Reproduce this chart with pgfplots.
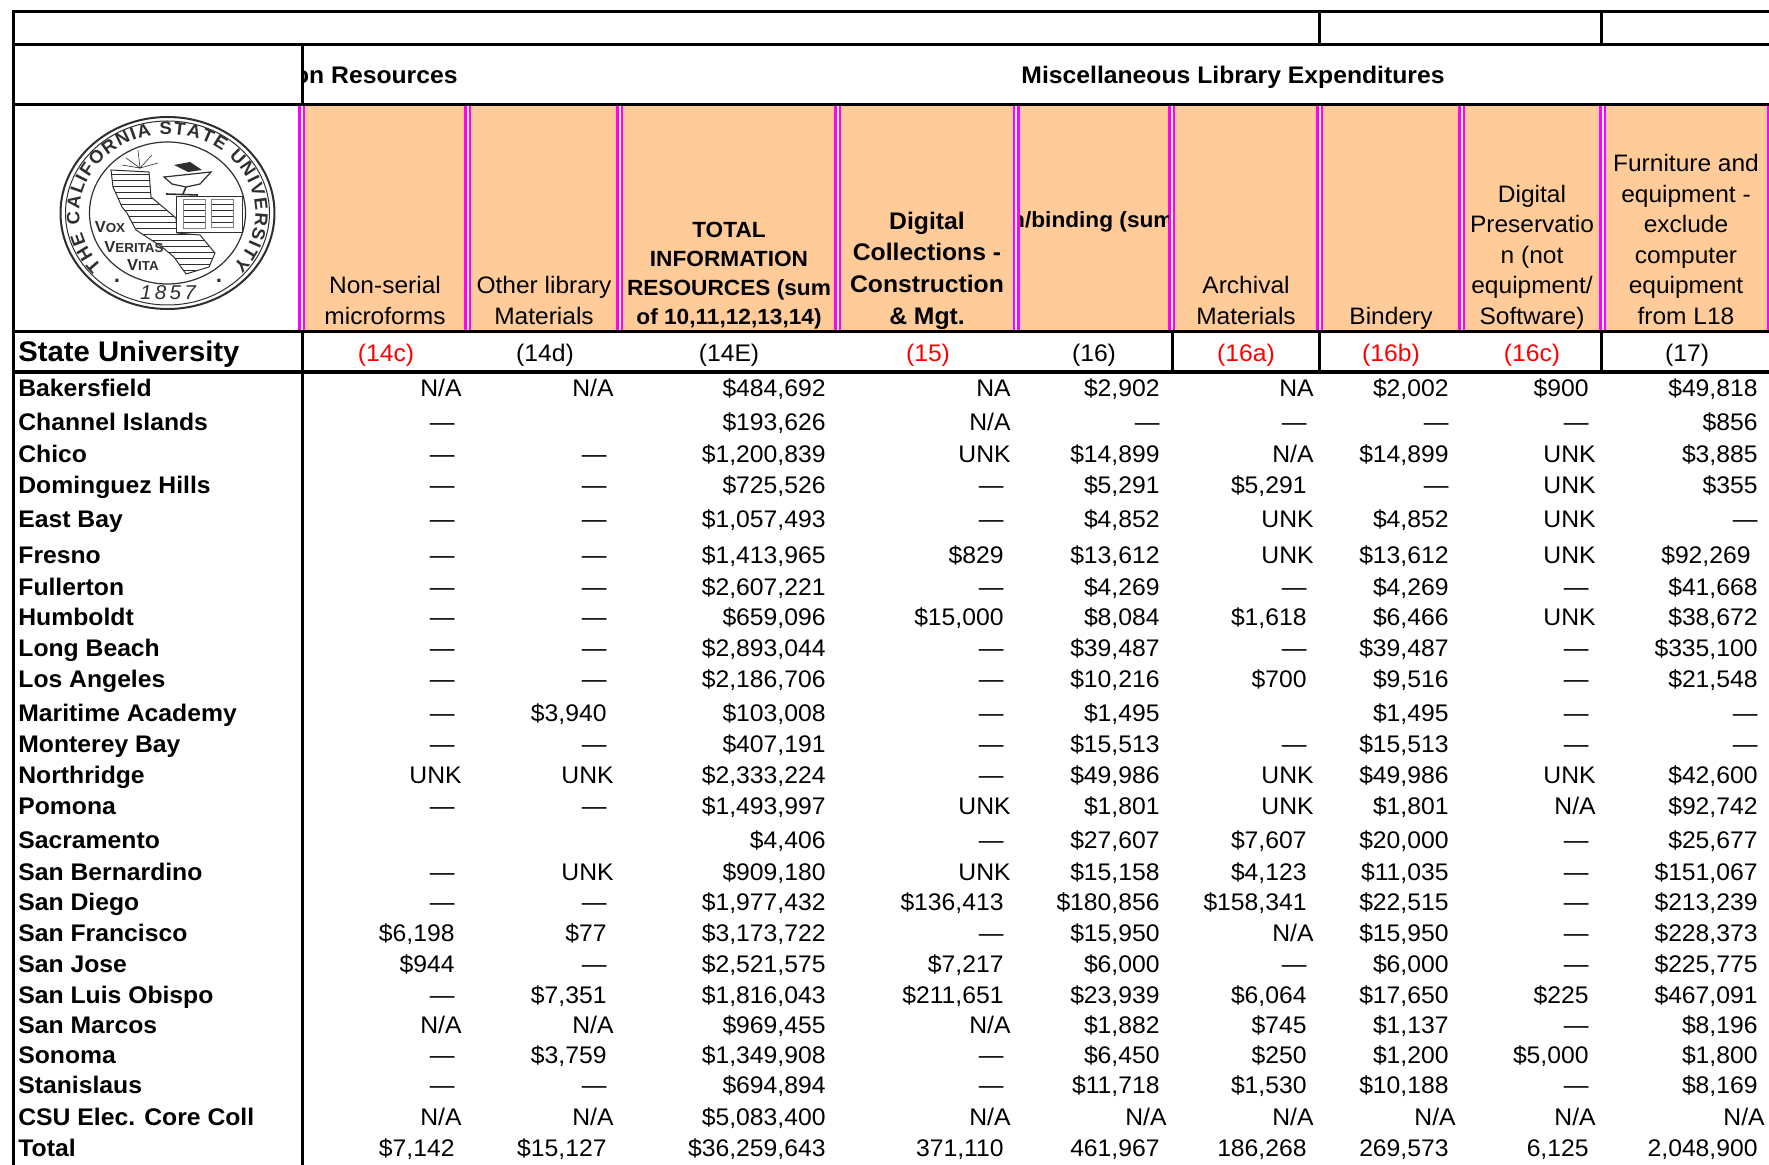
\documentclass[border=0pt]{standalone}
\usepackage{fontspec}
\setmainfont{Liberation Sans}[FakeStretch=1.03]
\usepackage{pgfplots}
\usepackage{pgfplotstable}
\pgfplotsset{compat=1.18}
\usetikzlibrary{patterns,decorations.text}

\definecolor{hdr}{HTML}{FFCC99}
\definecolor{seal}{HTML}{2E2E2E}
\definecolor{mag}{HTML}{FF00FF}
\definecolor{redtxt}{HTML}{FF0000}
\newcommand\fs[2]{\fontsize{#1}{#2}\selectfont}

% text cells stick out past the right edge of the figures
\newcommand\NS{N/A\kern-3.5pt}
\newcommand\NAx{NA\kern-3.5pt}
\newcommand\U{UNK\kern-3.5pt}
\newcommand\Q{---}

% y = text baseline in reference pixels
\pgfplotstableread[col sep=semicolon]{
y;name;a;b;c;d;e;f;g;h;i
397;Bakersfield;\NS;\NS;\$484,692;\NAx;\$2,902;\NAx;\$2,002;\$900;\$49,818
431;Channel Islands;\Q;;\$193,626;\NS;\Q;\Q;\Q;\Q;\$856
463;Chico;\Q;\Q;\$1,200,839;\U;\$14,899;\NS;\$14,899;\U;\$3,885
494;Dominguez Hills;\Q;\Q;\$725,526;\Q;\$5,291;\$5,291;\Q;\U;\$355
528;East Bay;\Q;\Q;\$1,057,493;\Q;\$4,852;\U;\$4,852;\U;\Q
564;Fresno;\Q;\Q;\$1,413,965;\$829;\$13,612;\U;\$13,612;\U;\$92,269\kern3.5pt
596;Fullerton;\Q;\Q;\$2,607,221;\Q;\$4,269;\Q;\$4,269;\Q;\$41,668
626;Humboldt;\Q;\Q;\$659,096;\$15,000;\$8,084;\$1,618;\$6,466;\U;\$38,672
657;Long Beach;\Q;\Q;\$2,893,044;\Q;\$39,487;\Q;\$39,487;\Q;\$335,100
688;Los Angeles;\Q;\Q;\$2,186,706;\Q;\$10,216;\$700;\$9,516;\Q;\$21,548
722;Maritime Academy;\Q;\$3,940;\$103,008;\Q;\$1,495;;\$1,495;\Q;\Q
753;Monterey Bay;\Q;\Q;\$407,191;\Q;\$15,513;\Q;\$15,513;\Q;\Q
784;Northridge;\U;\U;\$2,333,224;\Q;\$49,986;\U;\$49,986;\U;\$42,600
815;Pomona;\Q;\Q;\$1,493,997;\U;\$1,801;\U;\$1,801;\NS;\$92,742
849;Sacramento;;;\$4,406;\Q;\$27,607;\$7,607;\$20,000;\Q;\$25,677
881;San Bernardino;\Q;\U;\$909,180;\U;\$15,158;\$4,123;\$11,035;\Q;\$151,067
911;San Diego;\Q;\Q;\$1,977,432;\$136,413;\$180,856;\$158,341;\$22,515;\Q;\$213,239
942;San Francisco;\$6,198;\$77;\$3,173,722;\Q;\$15,950;\NS;\$15,950;\Q;\$228,373
972;San Jose;\$944;\Q;\$2,521,575;\$7,217;\$6,000;\Q;\$6,000;\Q;\$225,775
1003;San Luis Obispo;\Q;\$7,351;\$1,816,043;\$211,651;\$23,939;\$6,064;\$17,650;\$225;\$467,091
1033;San Marcos;\NS;\NS;\$969,455;\NS;\$1,882;\$745;\$1,137;\Q;\$8,196
1064;Sonoma;\Q;\$3,759;\$1,349,908;\Q;\$6,450;\$250;\$1,200;\$5,000;\$1,800
1094;Stanislaus;\Q;\Q;\$694,894;\Q;\$11,718;\$1,530;\$10,188;\Q;\$8,169
1125;CSU Elec. Core Coll;\NS;\NS;\$5,083,400;\NS;\NS;\NS;\NS;\NS;\NS
1156;Total;\$7,142;\$15,127;\$36,259,643;371,110;461,967;186,268;269,573;6,125;2,048,900
}\cells

\newcommand\datacol[2]{%
  \addplot[draw=none, mark=none, forget plot, point meta=explicit symbolic,
    nodes near coords,
    nodes near coords style={anchor=base east, inner sep=0pt, font=\fs{12}{14}}]
    table[x expr=#1, y=y, meta=#2] {\cells};}
\newcommand\rl[3][1.5pt]{\addplot[black, line width=#1, forget plot] coordinates {#2 #3};}
\newcommand\sep[1]{%
  \draw[mag, line width=1.25pt] ([xshift=0.625pt]axis cs:#1,104) -- ([xshift=0.625pt]axis cs:#1,332);
  \draw[white, line width=1pt] ([xshift=1.75pt]axis cs:#1,104) -- ([xshift=1.75pt]axis cs:#1,332);
  \draw[mag, line width=1.25pt] ([xshift=2.875pt]axis cs:#1,104) -- ([xshift=2.875pt]axis cs:#1,332);}
\newcommand\head[3][\fs{11.9}{15.3}]{\node[anchor=south, align=center, inner sep=0pt, font=#1] at (axis cs:#2,334) {#3\strut};}
\newcommand\cn[3][black]{\node[anchor=base, inner sep=0pt, text=#1, font=\fs{12}{14}] at (axis cs:#2,362) {#3};}

\begin{document}
\begin{tikzpicture}
\begin{axis}[
    hide axis, scale only axis,
    width=884.5pt, height=582.5pt,
    xmin=0, xmax=1769, ymin=0, ymax=1165,
    y dir=reverse,
]
% header band
\addplot[fill=hdr, draw=none, forget plot] coordinates {(298,104) (1769,104) (1769,332) (298,332)} --cycle;
\sep{298}\sep{464}\sep{616}\sep{834}\sep{1012.5}\sep{1168}\sep{1316}\sep{1458}\sep{1599}\sep{1767}

% rules
\rl{(11.5,11.5)}{(1769,11.5)}
\rl{(13,45)}{(1769,45)}
\rl{(13,104.5)}{(1769,104.5)}
\rl{(13,332)}{(1769,332)}
\rl[2.2pt]{(13,372)}{(1769,372)}
\rl{(13,10)}{(13,1165)}
\rl{(302,45)}{(302,104)}
\rl{(302,332)}{(302,1165)}
\rl{(1319,11)}{(1319,45)}
\rl{(1601,11)}{(1601,45)}
\rl{(1172,332)}{(1172,372)}
\rl{(1319,332)}{(1319,372)}
\rl{(1601,332)}{(1601,372)}

% seal
\draw[seal, line width=1pt] (axis cs:167.5,213) ellipse [x radius=53.5pt, y radius=48pt];
\draw[seal, line width=0.5pt] (axis cs:167.5,213) ellipse [x radius=51pt, y radius=46pt];
\draw[seal, line width=0.6pt] (axis cs:167.5,213) ellipse [x radius=39pt, y radius=35.5pt];
\addplot[pattern=horizontal lines, pattern color=seal, draw=seal, line width=0.5pt, forget plot] coordinates {(111,170) (149,172) (151,197) (176,218) (177,233) (200,235) (215,253) (209,267) (186,274) (174,257) (162,247) (136,230) (127,213) (122,207) (113,187)} --cycle;
\addplot[fill=white, draw=seal, line width=0.5pt, forget plot] coordinates {(176,197) (242,197) (242,233) (176,233)} --cycle;
\addplot[pattern=horizontal lines, pattern color=seal, draw=seal!60, forget plot] coordinates {(183,199) (205,199) (205,228) (183,228)} --cycle;
\addplot[pattern=horizontal lines, pattern color=seal, draw=seal!60, forget plot] coordinates {(211,199) (233,199) (233,227) (211,227)} --cycle;
\addplot[fill=white, draw=seal, line width=0.6pt, forget plot] coordinates {(164,177) (211,172) (200,184) (186,187) (172,184)} --cycle;
\addplot[fill=seal, draw=none, forget plot] coordinates {(174,165) (190,162) (202,170) (188,172)} --cycle;
\addplot[seal, line width=0.8pt, forget plot] coordinates {(166,194) (198,195)};
\addplot[seal, line width=0.8pt, forget plot] coordinates {(186,187) (183,194)};
\addplot[seal, line width=0.3pt, forget plot] coordinates {(126,158) (140,168) (138,150)};
\addplot[seal, line width=0.3pt, forget plot] coordinates {(152,155) (140,168) (158,163)};
\addplot[seal, line width=0.3pt, forget plot] coordinates {(122,165) (140,168)};
\path[decorate, decoration={text along path, text align={fit to path},
    text={|\fs{9}{10}\bfseries\color{seal}|THE CALIFORNIA STATE UNIVERSITY}}]
  (axis cs:102,266) arc [start angle=222, end angle=-42, x radius=44pt, y radius=39.5pt];
\node[text=seal, font=\fs{10}{12}\itshape, inner sep=0pt] at (axis cs:168,293) {1\,8\,5\,7};
\node[text=seal, font=\fs{11}{12}\bfseries, inner sep=0pt] at (axis cs:117,281) {.};
\node[text=seal, font=\fs{11}{12}\bfseries, inner sep=0pt] at (axis cs:219,281) {.};
\node[text=seal, font=\fs{8}{9}\bfseries, inner sep=0pt] at (axis cs:110,227) {V\fs{6.5}{9}OX};
\node[text=seal, font=\fs{8}{9}\bfseries, inner sep=0pt] at (axis cs:134,247) {V\fs{6.5}{9}ERITAS};
\node[text=seal, font=\fs{8}{9}\bfseries, inner sep=0pt] at (axis cs:143,265) {V\fs{6.5}{9}ITA};

% section titles, cut off by their cells as in the sheet
\begin{scope}
\clip (axis cs:304,50) rectangle (axis cs:700,100);
\node[anchor=base east, inner sep=0pt, font=\fs{12}{14}\bfseries] at (axis cs:458,84) {Information Resources};
\end{scope}
\node[anchor=base, inner sep=0pt, font=\fs{12}{14}\bfseries] at (axis cs:1233,84) {Miscellaneous Library Expenditures};
\begin{scope}
\clip (axis cs:1020,110) rectangle (axis cs:1168,320);
\node[anchor=base east, inner sep=0pt, font=\fs{11}{13}\bfseries] at (axis cs:1174,228) {Preservation/binding (sum};
\end{scope}

% column heads
\head{385}{Non-serial\\microforms}
\head{544}{Other library\\Materials}
\head[\fs{11}{14.5}\bfseries]{729}{TOTAL\\INFORMATION\\RESOURCES (sum\\of 10,11,12,13,14)}
\head[\fs{12}{15.8}\bfseries]{927}{Digital\\Collections -\\Construction\\\& Mgt.}
\head{1246}{Archival\\Materials}
\head{1391}{Bindery}
\head{1532}{Digital\\Preservatio\\n (not\\equipment/\\Software)}
\head{1686}{Furniture and\\equipment -\\exclude\\computer\\equipment\\from L18}

\node[anchor=base west, inner sep=0pt, font=\fs{14.2}{16}\bfseries] at (axis cs:18,362) {State University};
\cn[redtxt]{386}{(14c)}
\cn{545}{(14d)}
\cn{729}{(14E)}
\cn[redtxt]{928}{(15)}
\cn{1094}{(16)}
\cn[redtxt]{1246}{(16a)}
\cn[redtxt]{1391}{(16b)}
\cn[redtxt]{1532}{(16c)}
\cn{1687}{(17)}

% row names
\addplot[draw=none, mark=none, forget plot, point meta=explicit symbolic,
    nodes near coords,
    nodes near coords style={anchor=base west, inner sep=0pt, font=\fs{12}{14}\bfseries}]
    table[x expr=18, y=y, meta=name] {\cells};
\datacol{455}{a}
\datacol{607}{b}
\datacol{826}{c}
\datacol{1004}{d}
\datacol{1160}{e}
\datacol{1307}{f}
\datacol{1449}{g}
\datacol{1589}{h}
\datacol{1758}{i}
\end{axis}
\pgfresetboundingbox
\path (0,0) rectangle (884.5pt,582.5pt);
\end{tikzpicture}
\end{document}
